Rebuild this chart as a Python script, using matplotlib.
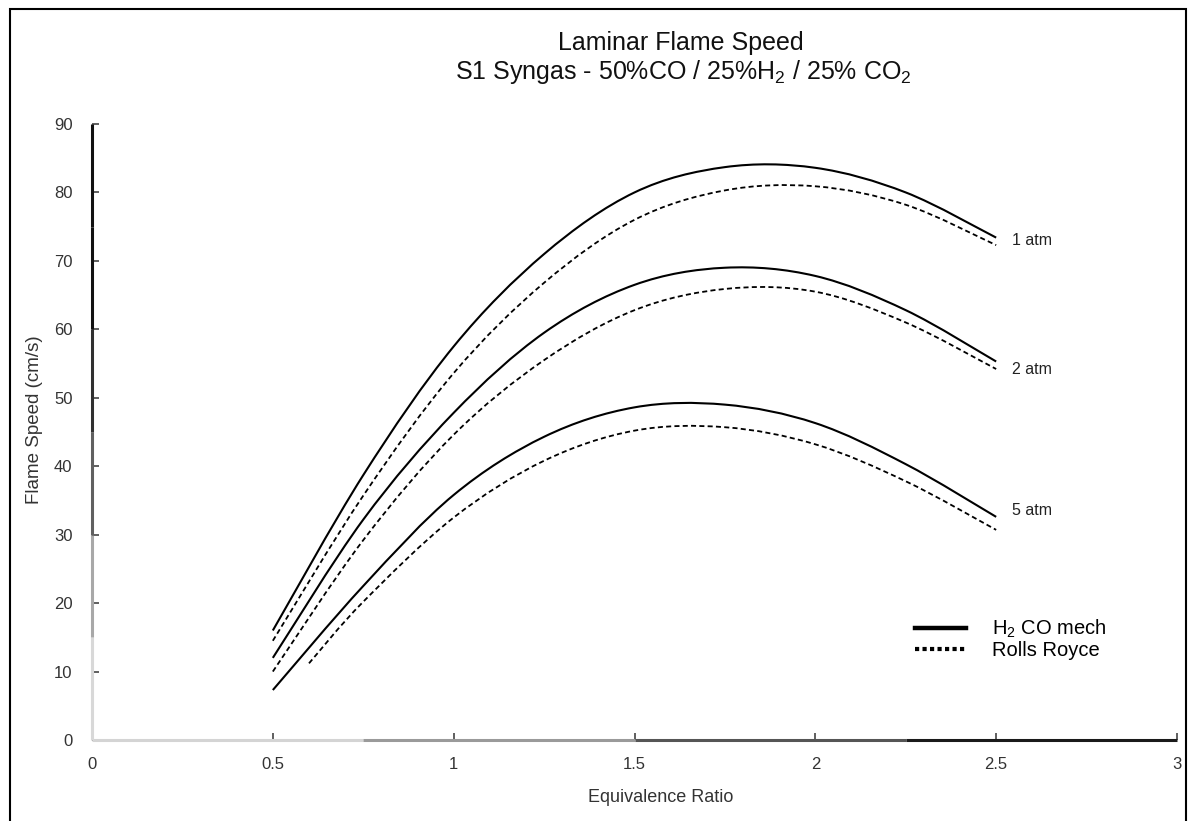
import matplotlib
matplotlib.use("Agg")
import matplotlib.pyplot as plt
from matplotlib.path import Path
from matplotlib.patches import PathPatch, Rectangle
from matplotlib.lines import Line2D
from matplotlib.collections import LineCollection
import numpy as np

plt.rcParams['font.family'] = ['Liberation Sans', 'DejaVu Sans']
plt.rcParams['mathtext.fontset'] = 'custom'
plt.rcParams['mathtext.rm'] = 'Liberation Sans'
plt.rcParams['mathtext.it'] = 'Liberation Sans'

# Equivalence ratio grid for the curves
phi = [0.5, 0.75, 1.0, 1.25, 1.5, 1.75, 2.0, 2.25, 2.5]
phi_rr5 = [0.6, 0.75, 1.0, 1.25, 1.5, 1.75, 2.0, 2.25, 2.5]

# H2/CO mechanism (solid)
mech_1atm = [16.0, 38.7, 57.5, 71.0, 80.0, 83.7, 83.6, 80.0, 73.4]
mech_2atm = [12.0, 32.2, 47.8, 59.5, 66.5, 69.0, 67.8, 62.8, 55.3]
mech_5atm = [7.3, 22.5, 35.8, 44.3, 48.6, 49.0, 46.3, 40.3, 32.6]

# Rolls Royce (dashed)
rr_1atm = [14.5, 35.7, 53.6, 66.8, 76.0, 80.3, 80.9, 78.2, 72.3]
rr_2atm = [10.0, 29.2, 44.6, 55.5, 62.8, 65.9, 65.5, 61.0, 54.2]
rr_5atm = [11.2, 20.2, 32.5, 40.8, 45.2, 45.7, 43.2, 37.8, 30.7]

pressure_labels = ["1 atm", "2 atm", "5 atm"]
label_y = [73.0, 54.2, 33.6]

x_ticks = [0, 0.5, 1, 1.5, 2, 2.5, 3]
x_tick_labels = ["0", "0.5", "1", "1.5", "2", "2.5", "3"]
y_ticks = list(range(0, 91, 10))


def smooth_path(xs, ys):
    """Smoothed polyline (Catmull-Rom as cubic Bezier) through the points."""
    pts = np.column_stack([xs, ys]).astype(float)
    ext = np.vstack([pts[0], pts, pts[-1]])
    verts = [tuple(pts[0])]
    codes = [Path.MOVETO]
    for i in range(1, len(ext) - 2):
        p0, p1, p2, p3 = ext[i - 1], ext[i], ext[i + 1], ext[i + 2]
        c1 = p1 + (p2 - p0) / 6.0
        c2 = p2 - (p3 - p1) / 6.0
        verts += [tuple(c1), tuple(c2), tuple(p2)]
        codes += [Path.CURVE4] * 3
    return Path(verts, codes)


fig = plt.figure(figsize=(11.92, 8.21), dpi=100)
ax = fig.add_axes([92 / 1192, 81 / 821, (1177 - 92) / 1192, (740 - 124) / 821])
ax.set_xlim(0, 3)
ax.set_ylim(0, 90)

solid_style = dict(color='black', lw=1.5, fill=False, linestyle='-')
dash_style = dict(color='black', lw=1.3, fill=False, linestyle=(0, (2.8, 1.8)))

for ys in (mech_1atm, mech_2atm, mech_5atm):
    ax.add_patch(PathPatch(smooth_path(phi, ys), **solid_style))
for xs, ys in ((phi, rr_1atm), (phi, rr_2atm), (phi_rr5, rr_5atm)):
    ax.add_patch(PathPatch(smooth_path(xs, ys), **dash_style))

for lab, yv in zip(pressure_labels, label_y):
    ax.text(2.543, yv, lab, fontsize=11.5, color='#222222', va='center', ha='left')

# Axes styling
for side in ('top', 'right', 'left', 'bottom'):
    ax.spines[side].set_visible(False)

# Shaded axis lines
def shaded_axis(p0, p1, colors):
    n = len(colors)
    segs = []
    for i in range(n):
        a = np.array(p0) + (np.array(p1) - np.array(p0)) * i / n
        b = np.array(p0) + (np.array(p1) - np.array(p0)) * (i + 1) / n
        segs.append([tuple(a), tuple(b)])
    lc = LineCollection(segs, colors=colors, linewidths=2.2,
                        transform=ax.transAxes, clip_on=False)
    ax.add_collection(lc)

shaded_axis((0, 0), (1, 0), ['#d4d4d4', '#9a9a9a', '#555555', '#1a1a1a'])
shaded_axis((0, 0), (0, 1), ['#d8d8d8', '#a8a8a8', '#606060', '#303030', '#111111', '#111111'])

ax.set_xticks(x_ticks)
ax.set_xticklabels(x_tick_labels)
ax.set_yticks(y_ticks)
ax.tick_params(direction='in', length=5, width=1.2, colors='#444444',
               labelsize=12, labelcolor='#333333', pad=12)
ax.tick_params(axis='y', pad=14)

ax.set_xlabel("Equivalence Ratio", fontsize=13, color='#333333')
ax.xaxis.set_label_coords((661 - 92) / 1085, -(789 - 740) / 616)
ax.set_ylabel("Flame Speed (cm/s)", fontsize=13.5, color='#333333')
ax.yaxis.set_label_coords(-(92 - 43) / 1085, (740 - 420) / 616)

# Legend
handles = [Line2D([], [], color='black', lw=3.2, linestyle='-'),
           Line2D([], [], color='black', lw=3.0, linestyle=(0, (1, 0.8)))]
ax.legend(handles, ["H$_2$ CO mech", "Rolls Royce"], loc='upper left',
          bbox_to_anchor=(0.742, 0.228), frameon=False, fontsize=14.5,
          handlelength=2.5, handletextpad=1.3, labelspacing=0.05)

# Titles
fig.text(681 / 1192, 1 - 43 / 821, "Laminar Flame Speed", ha='center', va='center',
         fontsize=18, color='#111111')
fig.text(683 / 1192, 1 - 72 / 821, "S1 Syngas - 50%CO / 25%H$_2$ / 25% CO$_2$",
         ha='center', va='center', fontsize=18, color='#111111')

# Outer frame
fig.add_artist(Rectangle((10 / 1192, -0.01), (1186 - 10) / 1192, 1.01 - 9 / 821,
                         transform=fig.transFigure, fill=False, edgecolor='black', lw=1.5))

fig.savefig("out.png", dpi=100)
